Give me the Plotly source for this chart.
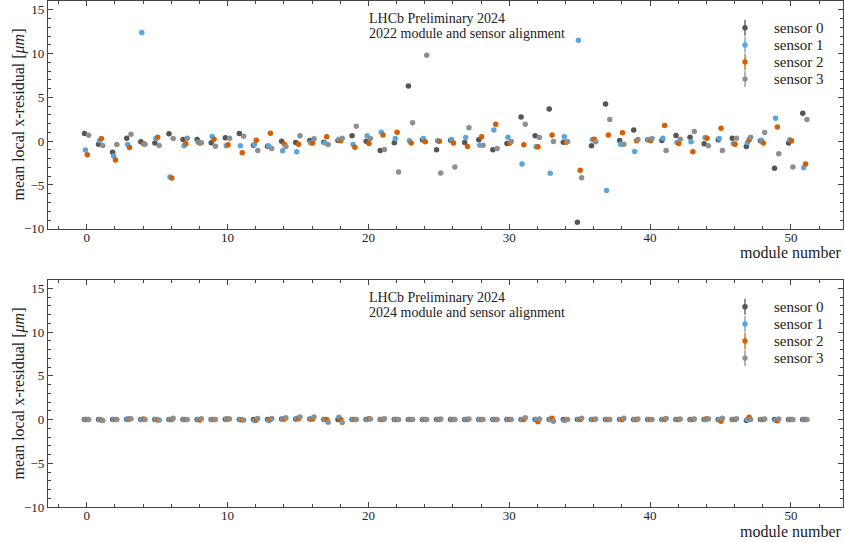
import plotly.graph_objects as go

modules = list(range(52))
sensor_names = ["sensor 0", "sensor 1", "sensor 2", "sensor 3"]
sensor_colors = ["#555555", "#5aa5dc", "#d55e00", "#8f8f8f"]
x_ticks = [0, 10, 20, 30, 40, 50]
y_ticks = [-10, -5, 0, 5, 10, 15]

# 2022 alignment: mean local x-residual per module (um)
y2022_s0 = [0.87, -0.34, -1.25, 0.34, -0.07, -0.22, 0.84, 0.19, 0.19, -0.19, 0.38, 0.87, -0.45,
            -0.57, 0.0, -0.15, 0.08, -0.11, 0.08, 0.61, 0.0, -1.06, -0.19, 6.29, 0.15, -0.98,
            0.11, -0.15, 0.15, -0.98, -0.26, 2.77, 0.61, 3.68, -0.11, -9.24, -0.53, 4.25, 0.08,
            1.29, 0.15, 0.08, 0.65, 0.45, -0.3, 0.15, 0.34, -0.6, 0.04, -3.1, -0.22, 3.19]
y2022_s1 = [-1.02, 0.05, -1.7, -0.38, 12.4, 0.3, -4.09, -0.53, -0.11, 0.53, -0.53, -0.53, -0.38,
            -0.53, -1.1, -1.2, -0.22, -0.22, 0.19, -0.38, 0.61, 1.02, 0.31, 0.04, 0.31, 0.04,
            0.19, 0.42, -0.45, 1.29, 0.45, -2.61, -0.64, -3.67, 0.5, 11.52, 0.19, -5.64, -0.34,
            -1.17, 0.19, 0.34, -0.15, -0.07, 0.42, 0.31, -0.3, -0.19, 0.11, 2.62, 0.15, -3.03]
y2022_s2 = [-1.55, 0.3, -2.16, -0.72, -0.3, 0.45, -4.2, -0.3, -0.22, 0.23, -0.41, -1.32, 0.11,
            0.91, -0.34, -0.34, -0.22, 0.5, 0.04, -0.68, -0.26, 0.72, 1.02, -0.22, -0.07, 0.0,
            -0.22, -0.6, 0.5, 1.93, -0.22, -0.41, -0.64, 0.72, -0.11, -3.33, 0.23, 0.72, 0.95,
            0.04, 0.04, 1.78, -0.26, -1.2, 0.34, 1.48, -0.34, 0.15, -0.22, 1.63, 0.04, -2.61]
y2022_s3 = [0.68, -0.49, -0.38, 0.8, -0.34, -0.49, 0.31, 0.34, -0.19, -0.57, 0.34, 0.57, -1.06,
            -0.83, -0.6, 0.61, 0.27, -0.38, 0.34, 1.7, 0.31, -0.94, -3.52, 2.09, 9.82, -3.64,
            -2.95, 1.52, -0.45, -0.83, -0.03, 1.93, 0.42, -0.03, -0.03, -4.16, -0.07, 2.47, -0.34,
            0.19, 0.31, -1.06, 0.23, 1.1, -0.53, -1.06, 0.34, 0.45, 0.99, -1.43, -2.95, 2.47]

# 2024 alignment
y2024_s0 = [0.0, 0.0, 0.0, 0.02, 0.0, 0.0, 0.0, 0.0, 0.0, 0.0, 0.02, 0.0, 0.0,
            0.0, 0.05, 0.05, 0.05, 0.0, 0.0, 0.0, 0.0, 0.0, 0.0, 0.0, 0.0, 0.0,
            0.0, 0.0, 0.0, 0.0, 0.0, 0.0, 0.0, 0.0, 0.0, 0.0, 0.0, 0.0, 0.0,
            0.0, 0.0, 0.0, 0.0, 0.0, 0.0, 0.0, 0.0, -0.1, 0.0, 0.0, 0.0, 0.0]
y2024_s1 = [0.0, 0.0, 0.0, 0.05, 0.0, 0.0, 0.0, 0.0, 0.0, 0.0, 0.05, 0.0, -0.12,
            -0.1, 0.1, 0.15, 0.1, 0.0, 0.25, 0.0, 0.0, 0.0, 0.0, 0.0, 0.0, 0.0,
            0.0, 0.0, 0.0, 0.0, 0.0, 0.0, 0.0, 0.0, -0.12, 0.0, 0.0, 0.0, 0.0,
            0.0, 0.0, 0.0, 0.0, 0.0, 0.0, 0.0, 0.0, 0.0, 0.0, -0.08, 0.0, 0.0]
y2024_s2 = [0.0, -0.05, 0.0, 0.05, 0.05, -0.05, 0.0, 0.0, -0.05, 0.0, 0.05, -0.05, -0.05,
            0.0, 0.05, 0.1, 0.05, 0.0, 0.0, 0.0, 0.1, 0.0, 0.0, 0.0, 0.0, 0.0,
            0.0, 0.0, 0.0, 0.0, 0.0, 0.0, -0.25, 0.15, 0.0, 0.0, 0.0, 0.0, 0.0,
            0.0, 0.0, 0.0, 0.0, 0.0, 0.1, -0.2, 0.0, 0.25, 0.0, -0.15, 0.0, 0.0]
y2024_s3 = [0.0, -0.1, 0.0, 0.08, 0.0, -0.05, 0.15, 0.0, 0.1, 0.0, 0.05, -0.05, 0.12,
            0.12, 0.2, 0.3, 0.3, -0.3, -0.35, 0.0, 0.05, 0.1, 0.0, 0.0, 0.0, 0.05,
            0.0, 0.05, 0.0, 0.0, 0.0, 0.2, 0.05, -0.2, 0.0, 0.15, 0.05, 0.0, 0.15,
            0.05, 0.0, 0.12, 0.05, 0.05, 0.05, 0.15, 0.1, 0.0, 0.05, 0.05, 0.0, 0.0]

offsets = [-0.16, -0.09, 0.04, 0.14]
series_2022 = [y2022_s0, y2022_s1, y2022_s2, y2022_s3]
series_2024 = [y2024_s0, y2024_s1, y2024_s2, y2024_s3]

FONT = "Liberation Serif, Times New Roman, serif"
TXT = "#222"
W, H = 845, 542
ML, MR, MT, MB = 48, 2, 1, 35
PW, PH = W - ML - MR, H - MT - MB


def px(xp):
    return (xp - ML) / PW


def py(yp):
    return (H - MB - yp) / PH


fig = go.Figure()
for i, (ys, name) in enumerate(zip(series_2022, sensor_names)):
    fig.add_trace(go.Scatter(
        x=[m + offsets[i] for m in modules], y=ys, mode="markers", name=name,
        marker=dict(color=sensor_colors[i], size=5.5),
        error_y=dict(type="constant", value=0.05, color=sensor_colors[i], thickness=1, width=0),
        xaxis="x", yaxis="y", showlegend=False))
for i, (ys, name) in enumerate(zip(series_2024, sensor_names)):
    fig.add_trace(go.Scatter(
        x=[m + offsets[i] for m in modules], y=ys, mode="markers", name=name,
        marker=dict(color=sensor_colors[i], size=5.5),
        error_y=dict(type="constant", value=0.05, color=sensor_colors[i], thickness=1, width=0),
        xaxis="x2", yaxis="y2", showlegend=False))

axis_common = dict(
    showgrid=False, zeroline=False, showline=True, linecolor="#444", linewidth=1.3,
    mirror="allticks", ticks="inside", ticklen=5, tickcolor="#444", tickwidth=1,
    tickfont=dict(family=FONT, size=13, color=TXT), automargin=False,
)
xcommon = dict(axis_common, range=[-2.75, 53.7], tickvals=x_ticks, ticklabelstandoff=-4,
               minor=dict(dtick=2, tick0=0, ticks="inside", ticklen=3, tickcolor="#444"))
ycommon = dict(axis_common, range=[-10, 16], tickvals=y_ticks,
               minor=dict(dtick=1, tick0=0, ticks="inside", ticklen=3, tickcolor="#444"))

ann = []
shapes = []
panels = [("2022 module and sensor alignment", 0.5),
          ("2024 module and sensor alignment", 279.5)]
for label, top in panels:
    for j, line in enumerate(["LHCb Preliminary 2024", label]):
        ann.append(dict(xref="paper", yref="paper", x=px(366.5), y=py(top + 17.8 + 15 * j),
                        xanchor="left", yanchor="middle", showarrow=False, text=line,
                        font=dict(family=FONT, size=14, color=TXT)))
    ann.append(dict(xref="paper", yref="paper", x=px(18), y=py(top + 114), textangle=-90,
                    xanchor="center", yanchor="middle", showarrow=False,
                    text="mean local x-residual [<i>μm</i>]",
                    font=dict(family=FONT, size=16, color=TXT)))
    ann.append(dict(xref="paper", yref="paper", x=px(844), y=py(top + 252.2),
                    xanchor="right", yanchor="middle", showarrow=False,
                    text="module number", font=dict(family=FONT, size=16, color=TXT)))
    # legend (drawn manually to match the marker + error-bar key)
    for k, name in enumerate(sensor_names):
        yc = top + 27.3 + 17.1 * k
        shapes.append(dict(type="line", xref="paper", yref="paper",
                           x0=px(745), x1=px(745), y0=py(yc - 8), y1=py(yc + 8),
                           line=dict(color=sensor_colors[k], width=1.3)))
        shapes.append(dict(type="circle", xref="paper", yref="paper",
                           x0=px(742.3), x1=px(747.7), y0=py(yc + 2.7), y1=py(yc - 2.7),
                           fillcolor=sensor_colors[k], line=dict(width=0)))
        ann.append(dict(xref="paper", yref="paper", x=px(772), y=py(yc), xanchor="left",
                        yanchor="middle", showarrow=False, text=name,
                        font=dict(family=FONT, size=15, color=TXT)))

fig.update_layout(
    width=W, height=H, margin=dict(l=ML, r=MR, t=MT, b=MB),
    paper_bgcolor="white", plot_bgcolor="white", showlegend=False,
    xaxis=dict(xcommon, domain=[0, 1], anchor="y"),
    yaxis=dict(ycommon, domain=[py(228.8), 1.0], anchor="x"),
    xaxis2=dict(xcommon, domain=[0, 1], anchor="y2"),
    yaxis2=dict(ycommon, domain=[0.0, py(279.5)], anchor="x2"),
    annotations=ann, shapes=shapes,
)

fig.write_html("out.html", config={"displayModeBar": False},
               post_script="document.body.style.margin='0';")
